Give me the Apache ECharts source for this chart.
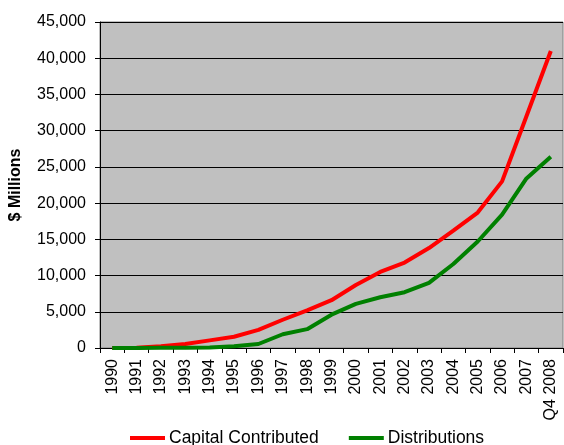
<!DOCTYPE html>
<html>
<head>
<meta charset="utf-8">
<script src="https://cdn.jsdelivr.net/npm/echarts@6/dist/echarts.min.js"></script>
<style>html,body{margin:0;padding:0;background:#fff;}#c{width:564px;height:445px;}</style>
</head>
<body>
<div id="c"></div>
<script>
const categories = ['1990','1991','1992','1993','1994','1995','1996','1997','1998','1999','2000','2001','2002','2003','2004','2005','2006','2007','Q4 2008'];
const capitalContributed = [0, 50, 250, 550, 1050, 1550, 2500, 3900, 5200, 6600, 8700, 10500, 11800, 13800, 16200, 18700, 23000, 32000, 41000];
const distributions = [0, 0, 20, 40, 80, 250, 550, 1900, 2600, 4600, 6100, 7000, 7700, 9000, 11600, 14700, 18400, 23400, 26400];
const yTicks = [0, 5000, 10000, 15000, 20000, 25000, 30000, 35000, 40000, 45000];

const FONT = 'Liberation Sans, Arial, sans-serif';
const chart = echarts.init(document.getElementById('c'), null, {renderer: 'canvas'});
chart.setOption({
  animation: false,
  backgroundColor: '#ffffff',
  textStyle: {fontFamily: FONT},
  grid: {left: 100, right: 1, top: 22, bottom: 97, show: true, backgroundColor: '#C0C0C0', borderColor: '#808080', borderWidth: 1},
  legend: {
    left: 130, top: 429, padding: 0,
    itemGap: 30, itemWidth: 35, itemHeight: 4,
    icon: 'rect',
    textStyle: {fontSize: 17.5, color: '#000', fontFamily: FONT, padding: [0, 0, 0, -1]},
    data: ['Capital Contributed', 'Distributions']
  },
  xAxis: {
    type: 'category',
    data: categories,
    boundaryGap: true,
    axisLine: {lineStyle: {color: '#000', width: 1}},
    axisTick: {show: true, length: 5, lineStyle: {color: '#000'}, alignWithLabel: false},
    axisLabel: {rotate: 90, interval: 0, margin: 11, fontSize: 16, color: '#000', fontFamily: FONT},
    splitLine: {show: false}
  },
  yAxis: {
    type: 'value',
    min: yTicks[0], max: yTicks[yTicks.length - 1], interval: 5000,
    name: '$ Millions',
    nameLocation: 'middle',
    nameGap: 76,
    nameRotate: 90,
    nameTextStyle: {fontSize: 16, fontWeight: 'bold', color: '#000', fontFamily: FONT},
    axisLine: {show: true, lineStyle: {color: '#000', width: 1}},
    axisTick: {show: true, length: 5, inside: false, lineStyle: {color: '#000'}},
    axisLabel: {margin: 14, fontSize: 16, color: '#000', fontFamily: FONT,
      formatter: v => v.toLocaleString('en-US')},
    splitLine: {show: true, lineStyle: {color: '#000', width: 1}}
  },
  series: [
    {name: 'Capital Contributed', type: 'line', data: capitalContributed, showSymbol: false, symbol: 'none',
     lineStyle: {color: '#FF0000', width: 4}, itemStyle: {color: '#FF0000'}},
    {name: 'Distributions', type: 'line', data: distributions, showSymbol: false, symbol: 'none',
     lineStyle: {color: '#008000', width: 4}, itemStyle: {color: '#008000'}}
  ]
});
</script>
</body>
</html>
